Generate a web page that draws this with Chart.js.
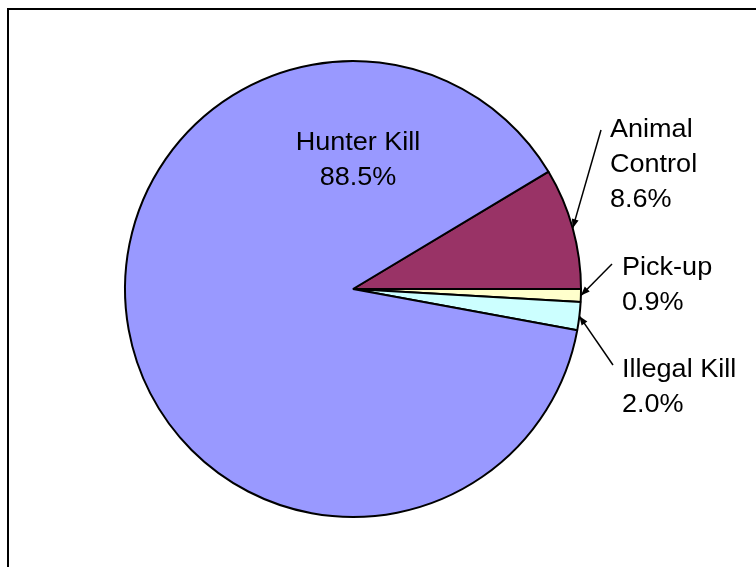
<!DOCTYPE html>
<html>
<head>
<meta charset="utf-8">
<script src="https://cdn.jsdelivr.net/npm/chart.js@4"></script>
<style>
  html, body { margin: 0; padding: 0; background: #fff; overflow: hidden; }
  #wrap { position: relative; width: 756px; height: 567px; }
  #frame { position: absolute; left: 7px; top: 8px; width: 800px; height: 700px;
           border: 2px solid #000; box-sizing: border-box; pointer-events: none; }
  canvas { position: absolute; left: 0; top: 0; }
</style>
</head>
<body>
<div id="wrap">
  <canvas id="pie" width="756" height="567"></canvas>
  <div id="frame"></div>
</div>
<script>
// --- data ---
const categories = ['Animal Control', 'Pick-up', 'Illegal Kill', 'Hunter Kill'];
const values = [8.6, 0.9, 2.0, 88.5];
const sliceColors = ['#993366', '#FFFFCC', '#CCFFFF', '#9999FF'];

// label text: name lines + percent
const labelLines = [['Animal', 'Control'], ['Pick-up'], ['Illegal Kill'], ['Hunter Kill']];

// where each label sits, relative to pie centre (dx, dy of first line)
// lead = start of leader line relative to centre, null = no leader
const labelPlace = [
    { dx: 257, dy: -159, align: 'left', lead: [248, -159] },
    { dx: 269, dy: -21, align: 'left', lead: [259, -25] },
    { dx: 269, dy: 81, align: 'left', lead: [260, 76] },
    { dx: 5, dy: -146, align: 'center', lead: null }
];

const total = values.reduce((a, b) => a + b, 0);

const pieLabels = {
    id: 'pieLabels',
    afterDatasetsDraw(chart) {
        const ctx = chart.ctx;
        const arcs = chart.getDatasetMeta(0).data;
        const fontSize = 26;
        const lineH = 35;
        ctx.save();
        ctx.fillStyle = '#000';
        ctx.strokeStyle = '#000';
        ctx.font = fontSize + 'px "Liberation Sans", Arial, sans-serif';
        ctx.textBaseline = 'middle';

        arcs.forEach((arc, i) => {
            const p = labelPlace[i];
            const cx = arc.x, cy = arc.y;
            const lines = labelLines[i].concat([values[i].toFixed(1) + '%']);

            lines.forEach((t, k) => {
                const x = cx + p.dx, y = cy + p.dy + k * lineH;
                ctx.save();
                ctx.translate(x, y);
                ctx.scale(1.04, 1);
                ctx.textAlign = p.align;
                ctx.fillText(t, 0, 0);
                ctx.restore();
            });

            if (p.lead) {
                const mid = (arc.startAngle + arc.endAngle) / 2;
                const tx = cx + Math.cos(mid) * arc.outerRadius;
                const ty = cy + Math.sin(mid) * arc.outerRadius;
                const sx = cx + p.lead[0], sy = cy + p.lead[1];
                ctx.lineWidth = 1.5;
                ctx.beginPath();
                ctx.moveTo(sx, sy);
                ctx.lineTo(tx, ty);
                ctx.stroke();
                // arrow head
                const a = Math.atan2(ty - sy, tx - sx);
                const len = 9, hw = 3.5;
                ctx.beginPath();
                ctx.moveTo(tx, ty);
                ctx.lineTo(tx - len * Math.cos(a) + hw * Math.sin(a), ty - len * Math.sin(a) - hw * Math.cos(a));
                ctx.lineTo(tx - len * Math.cos(a) - hw * Math.sin(a), ty - len * Math.sin(a) + hw * Math.cos(a));
                ctx.closePath();
                ctx.fill();
            }
        });
        ctx.restore();
    }
};

new Chart(document.getElementById('pie').getContext('2d'), {
    type: 'pie',
    data: {
        labels: categories,
        datasets: [{
            data: values,
            backgroundColor: sliceColors,
            borderColor: '#000',
            borderWidth: 2
        }]
    },
    options: {
        responsive: false,
        animation: false,
        // first slice (Animal Control) ends at 3 o'clock
        rotation: 90 - values[0] / total * 360,
        layout: { padding: { left: 123, right: 173, top: 60, bottom: 49 } },
        plugins: {
            legend: { display: false },
            tooltip: { enabled: false }
        }
    },
    plugins: [pieLabels]
});
</script>
</body>
</html>
